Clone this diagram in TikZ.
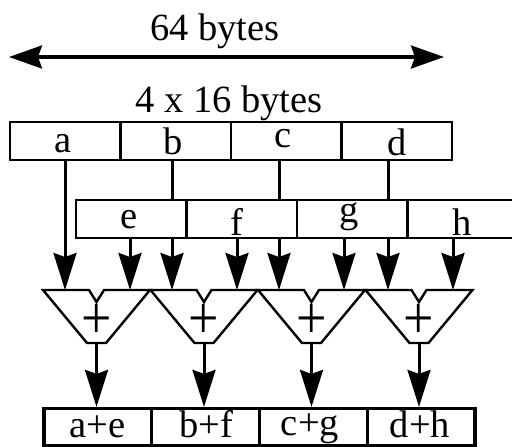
\documentclass[tikz,border=0pt]{standalone}
\usepackage{fontspec}
\setmainfont{Liberation Serif}
\usetikzlibrary{arrows.meta}
\begin{document}
\begin{tikzpicture}[x=1pt,y=-1pt,
  lbl/.style={inner sep=0pt, anchor=base, font=\fontsize{38.5}{40}\selectfont},
  cell/.style={draw, line width=2.8pt, inner sep=0pt, minimum width=#1},
  toprow/.style={cell=110.5pt, minimum height=38pt},
  midrow/.style={cell=110.5pt, minimum height=38pt},
  outrow/.style={cell=107.75pt, minimum height=37pt, line width=3.2pt},
  adder/.style={draw, line width=2.4pt, line join=miter},
  plussign/.style={inner sep=0pt, font=\fontsize{54}{56}\selectfont},
  conn/.style={line width=3pt},
  feed/.style={conn, -{Stealth[length=37pt, width=23pt, inset=4pt]}},
  span/.style={line width=3.2pt,
    {Stealth[length=33pt, width=23pt, inset=4pt]}-{Stealth[length=33pt, width=23pt, inset=4pt]}}
]
\useasboundingbox (0,0) rectangle (512,447);
\clip (0,0) rectangle (512,447);
\fill[white] (0,0) rectangle (512,447);

% width marker
\node[lbl] (w64) at (215,40) {64 bytes};
\coordinate (spanL) at (9,57);
\coordinate (spanR) at (444,57);
\draw[span] (spanL) -- (spanR);
\node[lbl] (w416) at (229,112) {4 x 16 bytes};

% first operand register
\node[toprow] (A) at (65.25,141) {};
\node[toprow] (B) at (175.75,141) {};
\node[toprow] (C) at (286.25,141) {};
\node[toprow] (D) at (396.75,141) {};
\node[lbl] (la) at (63,152) {a};
\node[lbl] (lb) at (173.5,154) {b};
\node[lbl] (lc) at (283,147) {c};
\node[lbl] (ld) at (397,155) {d};

% second operand register (runs off the right edge)
\node[midrow] (E) at (131.25,219) {};
\node[midrow] (F) at (241.75,219) {};
\node[midrow] (G) at (352.25,219) {};
\node[midrow] (H) at (462.75,219) {};
\node[lbl] (le) at (129,228) {e};
\node[lbl] (lf) at (237,235) {f};
\node[lbl] (lg) at (349,222) {g};
\node[lbl] (lh) at (462,235) {h};

% adders
\foreach \i/\cx in {1/96.5, 2/204, 3/311.5, 4/419}{
  \draw[adder] (\cx-53.5,290) -- (\cx-7.5,290) -- (\cx,302) -- (\cx+7.5,290)
    -- (\cx+53.5,290) -- (\cx+9.5,343) -- (\cx-9.5,343) -- cycle;
  \coordinate (S\i) at (\cx,290);
  \coordinate (O\i) at (\cx,343);
  \node[plussign] (P\i) at (\cx,321) {\scalebox{1}[1.12]{+}};
}

% tap positions of the operand lanes
\coordinate (xa) at (65,0);
\coordinate (xe) at (130,0);
\coordinate (xb) at (172,0);
\coordinate (xf) at (237,0);
\coordinate (xc) at (279,0);
\coordinate (xg) at (344,0);
\coordinate (xd) at (388,0);
\coordinate (xh) at (453,0);

% lanes from the first register through the second
\draw[conn] (B.south -| xb) -- (E.north -| xb);
\draw[conn] (C.south -| xc) -- (F.north -| xc);
\draw[conn] (D.south -| xd) -- (G.north -| xd);

% inputs to the adders
\draw[feed] (A.south -| xa) -- (S1 -| xa);
\draw[feed] (E.south -| xe) -- (S1 -| xe);
\draw[feed] (E.south -| xb) -- (S2 -| xb);
\draw[feed] (F.south -| xf) -- (S2 -| xf);
\draw[feed] (F.south -| xc) -- (S3 -| xc);
\draw[feed] (G.south -| xg) -- (S3 -| xg);
\draw[feed] (G.south -| xd) -- (S4 -| xd);
\draw[feed] (H.south -| xh) -- (S4 -| xh);

% result register
\node[outrow] (R1) at (97.9,427) {};
\node[outrow] (R2) at (205.6,427) {};
\node[outrow] (R3) at (313.4,427) {};
\node[outrow] (R4) at (421.1,427) {};
\node[lbl] (lr1) at (97.5,437) {a+e};
\node[lbl] (lr2) at (206.5,437) {b+f};
\node[lbl] (lr3) at (310,435) {c+g};
\node[lbl] (lr4) at (420,437) {d+h};

% adder outputs
\foreach \i in {1,...,4}{
  \draw[feed] (O\i) -- (R\i.north -| O\i);
}
\end{tikzpicture}
\end{document}
